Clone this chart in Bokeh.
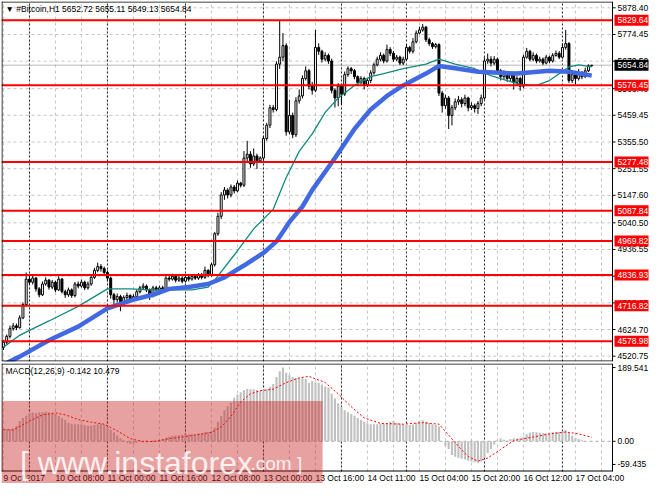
from bokeh.plotting import figure
from bokeh.models import Range1d, Label, BoxAnnotation, ColumnDataSource
from bokeh.core.properties import value
from bokeh.layouts import column
from bokeh.embed import file_html
from bokeh.resources import INLINE

# ---------------- data ----------------
first_open = 4555.0
closes = [
    4575, 4598, 4628, 4639, 4632, 4670, 4722, 4821, 4809, 4825,
    4783, 4760, 4802, 4817, 4790, 4809, 4779, 4821, 4772, 4760,
    4779, 4757, 4802, 4794, 4809, 4787, 4802, 4828, 4855, 4870,
    4862, 4847, 4825, 4760, 4741, 4753, 4734, 4749, 4757, 4741,
    4753, 4772, 4787, 4794, 4779, 4757, 4787, 4779, 4787, 4783,
    4825, 4821, 4832, 4817, 4825, 4813, 4828, 4821, 4832, 4825,
    4836, 4828, 4855, 4836, 4877, 4998, 5066, 5149, 5168, 5149,
    5180, 5165, 5195, 5187, 5293, 5308, 5270, 5301, 5282, 5293,
    5369, 5421, 5489, 5482, 5659, 5686, 5731, 5395, 5459, 5384,
    5516, 5535, 5603, 5633, 5573, 5557, 5724, 5709, 5678, 5693,
    5671, 5557, 5527, 5573, 5542, 5618, 5641, 5633, 5610, 5588,
    5603, 5580, 5595, 5625, 5656, 5678, 5693, 5671, 5716, 5701,
    5678, 5686, 5663, 5678, 5724, 5709, 5746, 5780, 5792, 5803,
    5754, 5739, 5727, 5735, 5546, 5497, 5527, 5459, 5489, 5512,
    5520, 5505, 5527, 5489, 5497, 5486, 5505, 5527, 5671, 5678,
    5663, 5678, 5633, 5610, 5625, 5603, 5618, 5588, 5603, 5573,
    5686, 5709, 5678, 5693, 5671, 5678, 5663, 5686, 5671, 5693,
    5701, 5686, 5724, 5739, 5595, 5618, 5603, 5625, 5610, 5633,
    5652.72, 5654.84]
highs = [
    4585, 4605, 4640, 4650, 4648, 4680, 4730, 4847, 4835, 4840,
    4830, 4790, 4812, 4828, 4822, 4818, 4815, 4832, 4826, 4780,
    4788, 4785, 4810, 4812, 4820, 4815, 4812, 4838, 4865, 4885,
    4880, 4870, 4855, 4830, 4768, 4765, 4760, 4758, 4768, 4762,
    4762, 4780, 4795, 4805, 4800, 4785, 4795, 4795, 4796, 4795,
    4832, 4835, 4842, 4840, 4835, 4832, 4838, 4836, 4840, 4840,
    4845, 4845, 4870, 4860, 4885, 5005, 5080, 5160, 5180, 5175,
    5190, 5188, 5205, 5200, 5320, 5360, 5320, 5330, 5310, 5300,
    5380, 5430, 5500, 5500, 5670, 5830, 5780, 5740, 5520, 5470,
    5530, 5560, 5615, 5650, 5640, 5590, 5792, 5740, 5715, 5705,
    5700, 5680, 5565, 5585, 5580, 5630, 5650, 5648, 5640, 5615,
    5612, 5610, 5605, 5635, 5665, 5688, 5705, 5700, 5735, 5725,
    5710, 5695, 5692, 5688, 5735, 5730, 5760, 5790, 5805, 5815,
    5808, 5762, 5745, 5742, 5740, 5555, 5540, 5535, 5500, 5525,
    5535, 5530, 5540, 5532, 5510, 5505, 5515, 5540, 5685, 5700,
    5690, 5690, 5685, 5640, 5635, 5630, 5628, 5625, 5612, 5610,
    5695, 5722, 5715, 5705, 5700, 5688, 5685, 5695, 5692, 5702,
    5712, 5710, 5740, 5792, 5745, 5630, 5625, 5640, 5632, 5645,
    5658, 5655.11]
lows = [
    4545, 4568, 4590, 4620, 4622, 4628, 4665, 4715, 4798, 4800,
    4772, 4750, 4755, 4795, 4780, 4782, 4770, 4775, 4765, 4748,
    4752, 4748, 4750, 4785, 4788, 4778, 4780, 4795, 4822, 4848,
    4850, 4838, 4815, 4745, 4715, 4730, 4696, 4725, 4740, 4730,
    4735, 4745, 4765, 4780, 4770, 4740, 4750, 4772, 4772, 4775,
    4778, 4812, 4815, 4808, 4810, 4805, 4808, 4812, 4815, 4818,
    4818, 4820, 4822, 4828, 4830, 4870, 4990, 5055, 5130, 5135,
    5140, 5155, 5160, 5178, 5180, 5280, 5255, 5262, 5250, 5275,
    5285, 5360, 5410, 5470, 5475, 5640, 5670, 5380, 5385, 5370,
    5375, 5505, 5525, 5595, 5560, 5540, 5550, 5695, 5665, 5670,
    5660, 5545, 5490, 5495, 5500, 5535, 5610, 5620, 5600, 5575,
    5580, 5560, 5570, 5585, 5618, 5650, 5670, 5662, 5665, 5690,
    5668, 5670, 5655, 5655, 5672, 5700, 5700, 5740, 5775, 5785,
    5745, 5730, 5718, 5720, 5535, 5470, 5485, 5406, 5420, 5480,
    5500, 5490, 5495, 5475, 5480, 5470, 5465, 5495, 5520, 5660,
    5650, 5655, 5620, 5595, 5600, 5590, 5590, 5560, 5575, 5555,
    5565, 5680, 5670, 5670, 5662, 5665, 5655, 5658, 5662, 5665,
    5688, 5678, 5680, 5715, 5585, 5585, 5580, 5595, 5600, 5605,
    5628, 5649.13]

# moving averages (bar index, price)
blue_idx = [0, 5, 14, 23, 32, 40, 46, 51, 57, 63, 68, 74, 80, 84, 88, 92, 95, 102, 108, 113,
            118, 123, 130, 134, 140, 146, 158, 168, 174, 181]
blue_val = [4488, 4519, 4583, 4636, 4707, 4741, 4760, 4783, 4790, 4802, 4828, 4874, 4923, 4968,
            5044, 5104, 5168, 5293, 5406, 5482, 5535, 5576, 5622, 5652, 5641, 5629, 5622, 5633,
            5629, 5614]
teal_idx = [0, 5, 8, 14, 23, 32, 39, 45, 58, 63, 65, 71, 77, 83, 87, 91, 95, 99, 103, 108,
            113, 117, 123, 130, 134, 139, 145, 150, 155, 159, 164, 168, 174, 177, 181]
teal_val = [4556, 4602, 4621, 4658, 4715, 4783, 4783, 4779, 4779, 4790, 4817, 4915, 5017, 5093,
            5217, 5319, 5387, 5471, 5527, 5576, 5610, 5622, 5641, 5659, 5678, 5659, 5641, 5614,
            5595, 5580, 5576, 5595, 5648, 5656, 5648]

# MACD(12,26,9) histogram per bar and signal line samples
macd = [
    31, 31, 31, 33, 40, 52, 60, 66, 73, 74,
    73, 75, 75, 76, 74, 72, 70, 65, 60, 55,
    48, 45, 44, 44, 44, 42, 40, 40, 42, 44,
    45, 43, 38, 30, 23, 15, 8, 2, -4, -6,
    -6, -4, 0, 2, 3, 1, 2, 3, 4, 6,
    9, 12, 14, 15, 16, 17, 18, 18, 19, 19,
    20, 21, 23, 23, 27, 35, 50, 65, 80, 90,
    100, 112, 120, 126, 132, 135, 134, 134, 132, 130,
    132, 134, 140, 147, 165, 180, 189.541, 176, 170, 165,
    163, 163, 162, 160, 150, 155, 152, 150, 146, 141,
    138, 122, 110, 98, 89, 80, 75, 70, 66, 60,
    55, 50, 46, 44, 44, 44, 45, 45, 47, 50,
    52, 48, 46, 44, 42, 42, 43, 48, 52, 54,
    50, 47, 44, 42, 38, 0, -12, -20, -35, -40,
    -43, -45, -47, -50, -52, -54, -55, -52, -43, -30,
    -20, -8, 3, 7, 4, 2, 6, 8, 7, 8,
    12, 18, 22, 24, 23, 22, 21, 21, 22, 23,
    24, 24, 26, 29, 22, 14, 9, 6, 3, 1,
    0, -0.142]
sig_idx = [0, 3, 8, 12, 16, 19, 23, 27, 31, 35, 39, 43, 47, 51, 55, 59, 64, 67, 70, 73,
           76, 79, 83, 87, 91, 94, 99, 103, 107, 111, 116, 123, 129, 134, 137, 140, 143, 146,
           149, 153, 157, 163, 168, 173, 177, 181]
sig_val = [30, 29, 52, 68, 73, 68, 56, 49, 44, 27, 7, -1, 0, 7, 11, 16, 23, 37, 64, 101,
           122, 130, 134, 151, 163, 167, 151, 122, 89, 60, 46, 44, 48, 44, 16, -13, -39, -51,
           -43, -21, 2, 11, 19, 24, 19, 10.479]

levels = [5829.64, 5576.45, 5277.48, 5087.84, 4969.82, 4836.93, 4716.82, 4578.98]
current_price = 5654.84
price_ticks = [4520.75, 4624.70, 4728.65, 4832.60, 4936.55, 5040.50, 5147.60, 5251.55,
               5355.50, 5459.45, 5563.40, 5670.50, 5774.45, 5878.40]
macd_ticks = [-59.435, 0, 189.541]
macd_tick_labels = ["-59.435", "0.00", "189.541"]
time_idx = [0, 16, 32, 48, 64, 80, 96, 112, 128, 144, 160, 176]
time_labels = ["9 Oct 2017", "10 Oct 08:00", "11 Oct 00:00", "11 Oct 16:00", "12 Oct 08:00",
               "13 Oct 00:00", "13 Oct 16:00", "14 Oct 11:00", "15 Oct 04:00", "15 Oct 20:00",
               "16 Oct 12:00", "17 Oct 04:00"]
day_sep_idx = [8, 32, 56, 80, 104, 124, 148, 172]
grid_idx = list(range(0, 190, 8))

# ---------------- geometry ----------------
FONT = value("Liberation Sans")
FS = value("8.5px")
CHART_PX, AXIS_PX = 611, 37
W = 1 + CHART_PX + AXIS_PX
X0, X1 = -0.6, 187.4
ppu = CHART_PX / (X1 - X0)          # pixels per bar
XR = X1 + AXIS_PX / ppu
xr = Range1d(X0, XR)

P0, P1 = 4500.0, 5903.0
PRICE_PX = 360
ppy = PRICE_PX / (P1 - P0)

M0, M1 = -77.6, 200.0
MACD_PX, TIME_PX = 108, 12
ppm = MACD_PX / (M1 - M0)
MB = M0 - TIME_PX / ppm

n = len(closes)
opens = [first_open] + closes[:-1]
src = ColumnDataSource(dict(
    x=list(range(n)), h=highs, l=lows,
    top=[max(o, c) for o, c in zip(opens, closes)],
    bot=[min(o, c) for o, c in zip(opens, closes)],
    fill=["white" if c >= o else "black" for o, c in zip(opens, closes)]))


def setup(fig, y_lo, y_hi):
    fig.background_fill_color = "white"
    fig.border_fill_color = "white"
    fig.outline_line_color = None
    fig.grid.visible = False
    fig.segment(x0=grid_idx, x1=grid_idx, y0=y_lo, y1=y_hi, line_color="#c4c4c4",
                line_dash="3 3", line_width=1)
    fig.segment(x0=day_sep_idx, x1=day_sep_idx, y0=y_lo, y1=y_hi, line_color="#222222",
                line_dash="2 2", line_width=1)


def right_axis(fig, ticks, labels, y_lo, y_hi, ypx):
    half = 0.5 / ypx
    fig.segment(x0=[X0 + 0.5 / ppu, X1, X0, X0], x1=[X0 + 0.5 / ppu, X1, X1, X1],
                y0=[y_lo, y_lo, y_hi - half, y_lo + half],
                y1=[y_hi, y_hi, y_hi - half, y_lo + half], line_color="black", line_width=1)
    fig.segment(x0=X1, x1=X1 + 3 / ppu, y0=ticks, y1=ticks, line_color="black", line_width=1)
    fig.text(x=X1 + 5 / ppu, y=ticks, text=labels, text_font=FONT, text_font_size=FS,
             text_align="left", text_baseline="middle", text_color="black")


def price_box(fig, ys, color):
    fig.rect(x=X1 + 19 / ppu, y=ys, width=34, height=11, width_units="screen",
             height_units="screen", fill_color=color, line_color=None)
    fig.text(x=X1 + 5 / ppu, y=ys, text=[f"{v:.2f}" for v in ys], text_font=FONT,
             text_font_size=FS, text_align="left", text_baseline="middle", text_color="white")


# ---------------- price pane ----------------
p = figure(width=W, height=PRICE_PX + 2, x_range=xr, y_range=Range1d(P0, P1),
           output_backend="svg", toolbar_location=None, x_axis_location=None,
           y_axis_location=None, min_border_left=1, min_border_right=0,
           min_border_top=1, min_border_bottom=1)
setup(p, P0, P1)
p.segment(x0=X0, x1=X1, y0=price_ticks, y1=price_ticks, line_color="#c4c4c4",
          line_dash="3 3", line_width=1)
p.segment(x0=X0, x1=X1, y0=[current_price], y1=[current_price], line_color="#b8b8b8",
          line_width=1)
p.segment(x0="x", y0="h", x1="x", y1="l", source=src, line_color="black", line_width=1)
p.vbar(x="x", width=0.6, top="top", bottom="bot", source=src, fill_color="fill",
       line_color="black", line_width=1)
p.line(teal_idx, teal_val, line_color="#118a7e", line_width=1.3)
p.line(blue_idx, blue_val, line_color="#4169e1", line_width=4.5)
p.segment(x0=X0, x1=X1, y0=levels, y1=levels, line_color="#ff0000", line_width=2)
right_axis(p, price_ticks, [f"{t:.2f}" for t in price_ticks], P0, P1, ppy)
price_box(p, levels, "#ff0000")
price_box(p, [current_price], "black")
p.add_layout(Label(x=X0, y=P1, x_offset=4, y_offset=-7,
                   text="\u25bc  #Bitcoin,H1  5652.72 5655.11 5649.13 5654.84",
                   text_align="left", text_baseline="middle", text_color="black",
                   text_font="Liberation Sans", text_font_size="8.5px"))

# ---------------- MACD pane ----------------
m = figure(width=W, height=MACD_PX + TIME_PX + 1, x_range=xr, y_range=Range1d(MB, M1),
           output_backend="svg", toolbar_location=None, x_axis_location=None,
           y_axis_location=None, min_border_left=1, min_border_right=0,
           min_border_top=1, min_border_bottom=0)
setup(m, M0, M1)
m.segment(x0=X0, x1=X1, y0=[0], y1=[0], line_color="#a8a8a8", line_dash="3 3", line_width=1)
m.vbar(x=list(range(n)), width=0.65, top=macd, bottom=0, fill_color="#c0c0c0",
       line_color=None)
m.line(sig_idx, sig_val, line_color="#ff0000", line_dash="2 2", line_width=1)
right_axis(m, macd_ticks, macd_tick_labels, M0, M1, ppm)
m.text(x=time_idx, y=M0 - 6.5 / ppm, text=time_labels, text_font=FONT, text_font_size=FS,
       text_align="left", text_baseline="middle", text_color="black")
m.add_layout(Label(x=X0, y=M1, x_offset=4, y_offset=-7,
                   text="MACD(12,26,9) -0.142 10.479", text_align="left",
                   text_baseline="middle", text_color="black", text_font="Liberation Sans",
                   text_font_size="8.5px"))

# watermark
m.add_layout(BoxAnnotation(left=X0, right=98.2, top=103.7, bottom=MB,
                           fill_color="#c81e1e", fill_alpha=0.42, line_color=None))
m.add_layout(Label(x=5.1, y=-57, text="[ www.instaforex", text_align="left",
                   text_baseline="alphabetic", text_color="white", text_alpha=0.85,
                   text_font="Liberation Sans", text_font_size="32px"))
m.add_layout(Label(x=76.0, y=-57, text=".com ]", text_align="left",
                   text_baseline="alphabetic", text_color="white", text_alpha=0.85,
                   text_font="Liberation Sans", text_font_size="19px"))

layout = column(p, m, spacing=0)
open("out.html", "w").write(file_html(layout, INLINE))
